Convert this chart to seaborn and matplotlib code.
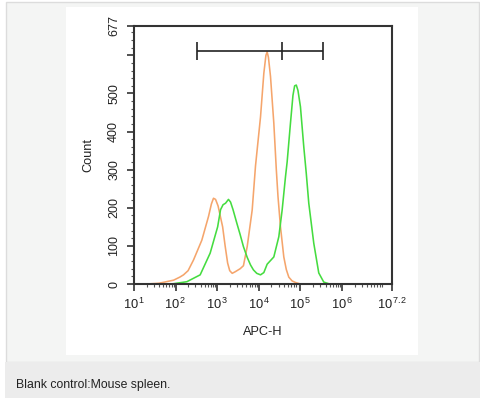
import numpy as np
import pandas as pd
import matplotlib
matplotlib.use("Agg")
import matplotlib.pyplot as plt
from matplotlib.patches import Rectangle
from matplotlib.ticker import FixedLocator, LogLocator, NullFormatter
import seaborn as sns

# ---- data (log10 APC-H positions, counts) ----
blank_log10 = [1.31, 1.60, 1.95, 2.10, 2.19, 2.30, 2.43, 2.63, 2.79, 2.86, 2.91, 2.96,
               3.02, 3.07, 3.13, 3.19, 3.25, 3.30, 3.36, 3.43, 3.55, 3.63, 3.72, 3.84,
               3.92, 4.04, 4.12, 4.17, 4.20, 4.23, 4.28, 4.36, 4.42, 4.46, 4.52, 4.60,
               4.66, 4.72, 4.80, 4.88, 5.00]
blank_count = [0, 2, 10, 18, 24, 35, 63, 115, 177, 210, 225, 222,
               205, 180, 150, 100, 55, 35, 28, 32, 40, 48, 98, 194,
               310, 438, 553, 600, 609, 595, 545, 422, 300, 230, 150, 71,
               38, 18, 8, 4, 0]

stained_log10 = [1.90, 2.27, 2.59, 2.83, 3.01, 3.08, 3.14, 3.20, 3.27, 3.32, 3.38, 3.47,
                 3.55, 3.63, 3.72, 3.80, 3.87, 3.95, 4.04, 4.12, 4.20, 4.36, 4.48, 4.56,
                 4.64, 4.68, 4.76, 4.82, 4.86, 4.90, 4.94, 5.00, 5.08, 5.14, 5.20, 5.32,
                 5.44, 5.56, 5.70]
stained_count = [0, 6, 24, 81, 150, 195, 208, 212, 222, 215, 195, 160,
                 130, 98, 70, 50, 37, 28, 24, 30, 52, 71, 124, 194,
                 281, 320, 422, 495, 520, 522, 508, 465, 360, 290, 212, 107,
                 29, 5, 0]

gate_bounds = [330, 37000, 340000]
gate_level = 612
gate_cap = 23

x_tick_exps = ["1", "2", "3", "4", "5", "6", "7.2"]
y_ticks = [0, 100, 200, 300, 400, 500, 600, 677]
y_tick_labels = ["0", "100", "200", "300", "400", "500", "", "677"]

blank_color = "#f5a56c"
stained_color = "#45dc40"

sns.set_style("ticks")
plt.rcParams["font.family"] = ["Liberation Sans", "DejaVu Sans"]
plt.rcParams["mathtext.default"] = "regular"

W, H = 481, 398
fig = plt.figure(figsize=(W / 100, H / 100), dpi=100, facecolor="white")

def frect(x0, y0, x1, y1, fc, ec="none", lw=0):
    fig.patches.append(Rectangle((x0 / W, 1 - y1 / H), (x1 - x0) / W, (y1 - y0) / H,
                                 transform=fig.transFigure, facecolor=fc,
                                 edgecolor=ec, linewidth=lw, zorder=-10))

frect(5.5, 1.5, 479.5, 361.5, "#f4f5f4", ec="#dcdcdc", lw=1)
frect(66, 7, 418, 355, "white")
frect(5, 362, 481, 398, "#ececec")

fig.text(16 / W, 1 - 385 / H, "Blank control:Mouse spleen.", fontsize=8.8,
         color="#222222", ha="left", va="center")

ax = fig.add_axes([134 / W, 1 - 284 / H, (392 - 134) / W, (284 - 26) / H])
ax.set_facecolor("white")

df_blank = pd.DataFrame({"APC-H": np.power(10.0, blank_log10), "Count": blank_count})
df_stained = pd.DataFrame({"APC-H": np.power(10.0, stained_log10), "Count": stained_count})

sns.lineplot(data=df_blank, x="APC-H", y="Count", ax=ax, color=blank_color,
             linewidth=1.15, sort=False, estimator=None)
sns.lineplot(data=df_stained, x="APC-H", y="Count", ax=ax, color=stained_color,
             linewidth=1.15, sort=False, estimator=None)

# gate bracket
ax.hlines(gate_level, gate_bounds[0], gate_bounds[-1], color="#222222", linewidth=1.2)
ax.vlines(gate_bounds, gate_level - gate_cap, gate_level + gate_cap, color="#222222",
          linewidth=1.2)

ax.set_xscale("log")
ax.set_xlim(10 ** 1, 10 ** 7.2)
ax.set_ylim(0, 677)

xt = [10 ** float(e) for e in x_tick_exps]
ax.xaxis.set_major_locator(FixedLocator(xt))
ax.set_xticklabels(["10$^{\\,%s}$" % e for e in x_tick_exps])
ax.xaxis.set_minor_locator(LogLocator(base=10, subs=np.arange(2, 10), numticks=20))
ax.xaxis.set_minor_formatter(NullFormatter())

ax.set_yticks(y_ticks)
ax.set_yticklabels(y_tick_labels, rotation=90, va="center")
ax.yaxis.set_minor_locator(FixedLocator(np.arange(0, 677, 20)))

for s in ax.spines.values():
    s.set_visible(True)
    s.set_color("#333333")
    s.set_linewidth(1.5)

ax.tick_params(axis="both", which="major", direction="out", length=5, width=1.2,
               color="#333333", labelsize=9.3, labelcolor="#222222", pad=4)
ax.tick_params(axis="both", which="minor", direction="out", length=2.5, width=0.8,
               color="#555555")
ax.tick_params(axis="y", which="major", pad=5, labelsize=9)

ax.set_xlabel("APC-H", fontsize=9.2, color="#222222", labelpad=10)
ax.set_ylabel("Count", fontsize=9.2, color="#222222", labelpad=10)

fig.savefig("out.png", dpi=100, facecolor=fig.get_facecolor())
